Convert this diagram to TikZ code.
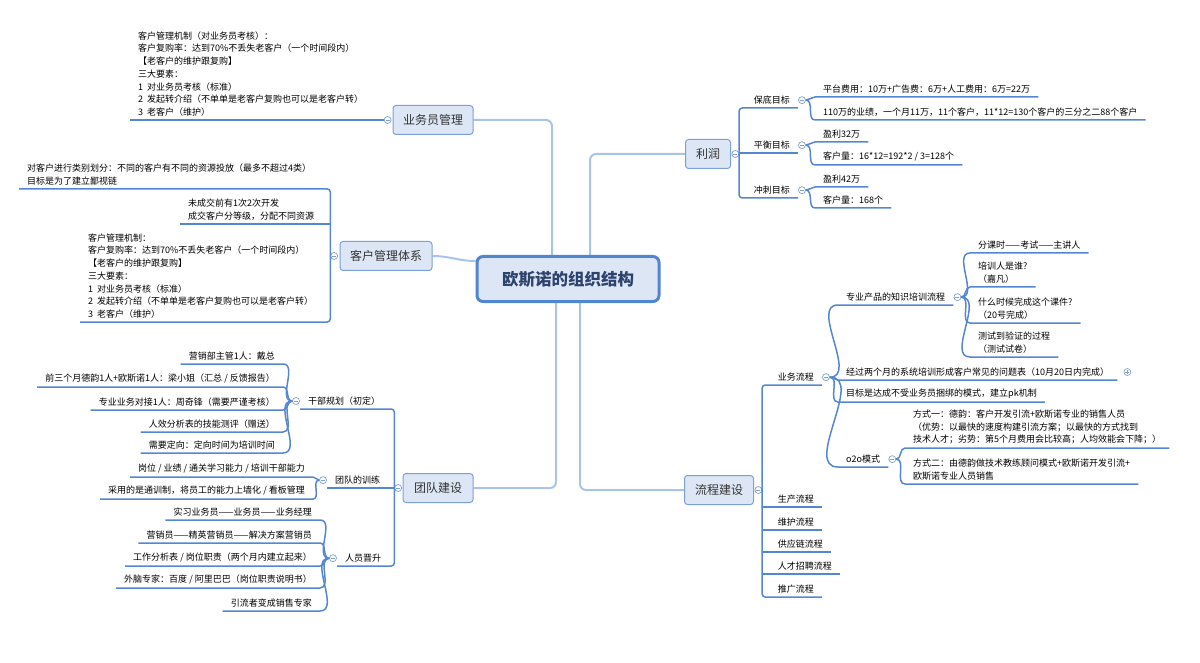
\documentclass[tikz,border=0pt]{standalone}
\usepackage{fontspec}
\setmainfont{Noto Sans CJK SC}
\usepackage{xcolor}
\usepackage{tikz}
\usetikzlibrary{positioning, backgrounds}

\definecolor{linkblue}{RGB}{84,135,210}
\definecolor{mainblue}{RGB}{168,196,234}
\definecolor{topicfill}{RGB}{220,230,244}
\definecolor{topicline}{RGB}{122,160,220}
\definecolor{rootline}{RGB}{80,134,208}
\definecolor{roottext}{RGB}{46,66,110}
\definecolor{foldline}{RGB}{128,160,206}

\newcommand{\leaffont}{\fontsize{9}{12.7}\selectfont}

\begin{document}
\begin{tikzpicture}[
    x=1pt, y=-1pt,
    node_root/.style={draw=rootline, fill=topicfill, line width=3pt, rounded corners=6pt, minimum width=182pt, minimum height=45pt, font=\fontsize{16.5}{20}\selectfont\bfseries, text=roottext},
    node_topic/.style={draw=topicline, fill=topicfill, rounded corners=3pt, line width=1pt, minimum height=29pt, font=\fontsize{12}{14}\selectfont, text=black!80},
    node_leaf/.style={inner xsep=8pt, inner ysep=3.5pt, align=left, font=\leaffont},
    fold_base/.style={circle, draw=foldline, fill=white, line width=0.7pt, inner sep=0pt, minimum size=7pt},
    node_fold/.style={fold_base, path picture={\draw[foldline, line width=0.6pt] ([xshift=-2pt]path picture bounding box.center) -- ([xshift=2pt]path picture bounding box.center);}},
    node_unfold/.style={fold_base, path picture={\draw[foldline, line width=0.6pt] ([xshift=-2pt]path picture bounding box.center) -- ([xshift=2pt]path picture bounding box.center) ([yshift=-2pt]path picture bounding box.center) -- ([yshift=2pt]path picture bounding box.center);}},
    line_sub/.style={draw=linkblue, line width=1.5pt},
    line_main/.style={draw=mainblue, line width=2pt, rounded corners=6pt}
]
\useasboundingbox (0,0) rectangle (1200,663);

\node[node_root] (root) at (568,279) {欧斯诺的组织结构};

\node[node_topic, minimum width=80pt] (yw) at (433,120) {业务员管理};
\node[node_topic, minimum width=92pt] (kh) at (386,256) {客户管理体系};
\node[node_topic, minimum width=70pt] (td) at (438,488) {团队建设};
\node[node_topic, minimum width=45pt] (lr) at (708,154) {利润};
\node[node_topic, minimum width=69pt] (lc) at (719,490) {流程建设};

\node[node_fold, left=1pt of yw] (ywf) {};
\node[node_fold, left=1.5pt of kh] (khf) {};
\node[node_fold, left=0.5pt of td] (tdf) {};
\node[node_fold, right=0.5pt of lr] (lrf) {};
\node[node_fold, right=0.5pt of lc] (lcf) {};

\begin{scope}[on background layer]
\draw[line_main] (yw.east) -| ([xshift=-16pt]root.north);
\draw[line_main] (lr.west) -| ([xshift=22pt]root.north);
\draw[line_main] ([xshift=-12pt]root.south) |- (td.east);
\draw[line_main] ([xshift=12pt]root.south) |- (lc.west);
\draw[line_main] (kh.east) to[out=0, in=180] ([yshift=-6pt]root.north west);
\end{scope}

% 业务员管理
\node[node_leaf, anchor=south west] (yw1) at (130,120) {客户管理机制（对业务员考核）：\\客户复购率：达到70\%不丢失老客户（一个时间段内）\\【老客户的维护跟复购】\\三大要素：\\1\ \ 对业务员考核（标准）\\2\ \ 发起转介绍（不单单是老客户复购也可以是老客户转）\\3\ \ 老客户（维护）};
\draw[line_sub] (ywf.west) -- (yw1.south west);

% 客户管理体系
\node[node_leaf, anchor=south west] (kh1) at (19,189) {对客户进行类别划分：不同的客户有不同的资源投放（最多不超过4类）\\目标是为了建立鄙视链};
\node[node_leaf, anchor=south west] (kh2) at (180,224) {未成交前有1次2次开发\\成交客户分等级，分配不同资源};
\node[node_leaf, anchor=south west] (kh3) at (80,322) {客户管理机制：\\客户复购率：达到70\%不丢失老客户（一个时间段内）\\【老客户的维护跟复购】\\三大要素：\\1\ \ 对业务员考核（标准）\\2\ \ 发起转介绍（不单单是老客户复购也可以是老客户转）\\3\ \ 老客户（维护）};
\draw[line_sub, rounded corners=3pt] (kh1.south west) -| (khf.west) |- (kh3.south west);
\draw[line_sub] (kh2.south west) -- (kh2.south west -| khf.west);

% 团队建设
\node[node_leaf, anchor=south west] (gb) at (300,409) {干部规划（初定）};
\node[node_leaf, anchor=south west] (tx) at (327,488) {团队的训练};
\node[node_leaf, anchor=south west] (rs) at (337,566) {人员晋升};
\node[node_fold] (gbf) at ([xshift=-4pt]gb.west) {};
\node[node_fold] (txf) at ([xshift=-4pt]tx.west) {};
\node[node_fold] (rsf) at ([xshift=-4pt]rs.west) {};
\draw[line_sub, rounded corners=3pt] (gb.south west) -| (tdf.west) |- (rs.south west);
\draw[line_sub] (tx.south west) -- (tx.south west -| tdf.west);

\node[node_leaf, anchor=south east] (gb1) at (283,364) {营销部主管1人：戴总};
\node[node_leaf, anchor=south east] (gb2) at (283,387) {前三个月德韵1人+欧斯诺1人：梁小姐（汇总 / 反馈报告）};
\node[node_leaf, anchor=south east] (gb3) at (283,410) {专业业务对接1人：周奇锋（需要严谨考核）};
\node[node_leaf, anchor=south east] (gb4) at (283,432) {人效分析表的技能测评（赠送）};
\node[node_leaf, anchor=south east] (gb5) at (283,453) {需要定向：定向时间为培训时间};
\node[node_leaf, anchor=south east] (tx1) at (313,477) {岗位 / 业绩 / 通关学习能力 / 培训干部能力};
\node[node_leaf, anchor=south east] (tx2) at (313,499) {采用的是通训制，将员工的能力上墙化 / 看板管理};
\node[node_leaf, anchor=south east] (rs1) at (320,520) {实习业务员——业务员——业务经理};
\node[node_leaf, anchor=south east] (rs2) at (320,543) {营销员——精英营销员——解决方案营销员};
\node[node_leaf, anchor=south east] (rs3) at (320,566) {工作分析表 / 岗位职责（两个月内建立起来）};
\node[node_leaf, anchor=south east] (rs4) at (320,588) {外脑专家：百度 / 阿里巴巴（岗位职责说明书）};
\node[node_leaf, anchor=south east] (rs5) at (320,611) {引流者变成销售专家};
\foreach \p/\c in {gbf/gb1, gbf/gb2, gbf/gb3, gbf/gb4, gbf/gb5, txf/tx1, txf/tx2, rsf/rs1, rsf/rs2, rsf/rs3, rsf/rs4, rsf/rs5}
    \draw[line_sub] (\p.west) to[out=180, in=0] (\c.south east) -- (\c.south west);

% 利润
\node[node_leaf, anchor=south east] (bd) at (798,108) {保底目标};
\node[node_leaf, anchor=south east] (ph) at (798,153) {平衡目标};
\node[node_leaf, anchor=south east] (cc) at (798,198) {冲刺目标};
\node[node_fold] (bdf) at ([xshift=4pt]bd.east) {};
\node[node_fold] (phf) at ([xshift=4pt]ph.east) {};
\node[node_fold] (ccf) at ([xshift=4pt]cc.east) {};
\draw[line_sub, rounded corners=3pt] (bd.south east) -| (lrf.east) |- (cc.south east);
\draw[line_sub] (ph.south east) -- (ph.south east -| lrf.east);

\node[node_leaf, anchor=south west] (bd1) at (815,97) {平台费用：10万+广告费：6万+人工费用：6万=22万};
\node[node_leaf, anchor=south west] (bd2) at (815,120) {110万的业绩，一个月11万，11个客户，11*12=130个客户的三分之二88个客户};
\node[node_leaf, anchor=south west] (ph1) at (815,142) {盈利32万};
\node[node_leaf, anchor=south west] (ph2) at (815,165) {客户量：16*12=192*2 / 3=128个};
\node[node_leaf, anchor=south west] (cc1) at (815,187) {盈利42万};
\node[node_leaf, anchor=south west] (cc2) at (815,208) {客户量：168个};
\foreach \p/\c in {bdf/bd1, bdf/bd2, phf/ph1, phf/ph2, ccf/cc1, ccf/cc2}
    \draw[line_sub] (\p.east) to[out=0, in=180] (\c.south west) -- (\c.south east);

% 流程建设
\node[node_leaf, anchor=south east] (yl) at (822,385) {业务流程};
\node[node_leaf, anchor=south east] (sc) at (822,507) {生产流程};
\node[node_leaf, anchor=south east] (wh) at (822,530) {维护流程};
\node[node_leaf, anchor=south east] (gy) at (831,552) {供应链流程};
\node[node_leaf, anchor=south east] (rc) at (840,574) {人才招聘流程};
\node[node_leaf, anchor=south east] (tg) at (822,597) {推广流程};
\node[node_fold] (ylf) at ([xshift=4pt]yl.east) {};
\draw[line_sub, rounded corners=3pt] (yl.south east) -| (lcf.east) |- (tg.south east);
\foreach \c in {sc, wh, gy, rc}
    \draw[line_sub] (\c.south east) -- (\c.south east -| lcf.east);

\node[node_leaf, anchor=south west] (zy) at (838,305) {专业产品的知识培训流程};
\node[node_leaf, anchor=south west] (jg) at (838,380) {经过两个月的系统培训形成客户常见的问题表（10月20日内完成）};
\node[node_leaf, anchor=south west] (mb) at (838,402) {目标是达成不受业务员捆绑的模式，建立pk机制};
\node[node_leaf, anchor=south west] (oo) at (838,467) {o2o模式};
\node[node_fold] (zyf) at ([xshift=4pt]zy.east) {};
\node[node_unfold] (jgf) at ([xshift=10pt]jg.east) {};
\node[node_fold] (oof) at ([xshift=4pt]oo.east) {};
\foreach \c in {zy, jg, mb, oo}
    \draw[line_sub] (ylf.east) to[out=0, in=180] (\c.south west) -- (\c.south east);

\node[node_leaf, anchor=south west] (zy1) at (970,253) {分课时——考试——主讲人};
\node[node_leaf, anchor=south west] (zy2) at (970,287) {培训人是谁?\\（嘉凡）};
\node[node_leaf, anchor=south west] (zy3) at (970,323) {什么时候完成这个课件?\\（20号完成）};
\node[node_leaf, anchor=south west] (zy4) at (970,357) {测试到验证的过程\\（测试试卷）};
\node[node_leaf, anchor=south west] (o1) at (905,448) {方式一：德韵：客户开发引流+欧斯诺专业的销售人员\\（优势：以最快的速度构建引流方案；以最快的方式找到\\技术人才；劣势：第5个月费用会比较高；人均效能会下降；）};
\node[node_leaf, anchor=south west] (o2) at (905,484) {方式二：由德韵做技术教练顾问模式+欧斯诺开发引流+\\欧斯诺专业人员销售};
\foreach \p/\c in {zyf/zy1, zyf/zy2, zyf/zy3, zyf/zy4, oof/o1, oof/o2}
    \draw[line_sub] (\p.east) to[out=0, in=180] (\c.south west) -- (\c.south east);
\end{tikzpicture}
\end{document}
